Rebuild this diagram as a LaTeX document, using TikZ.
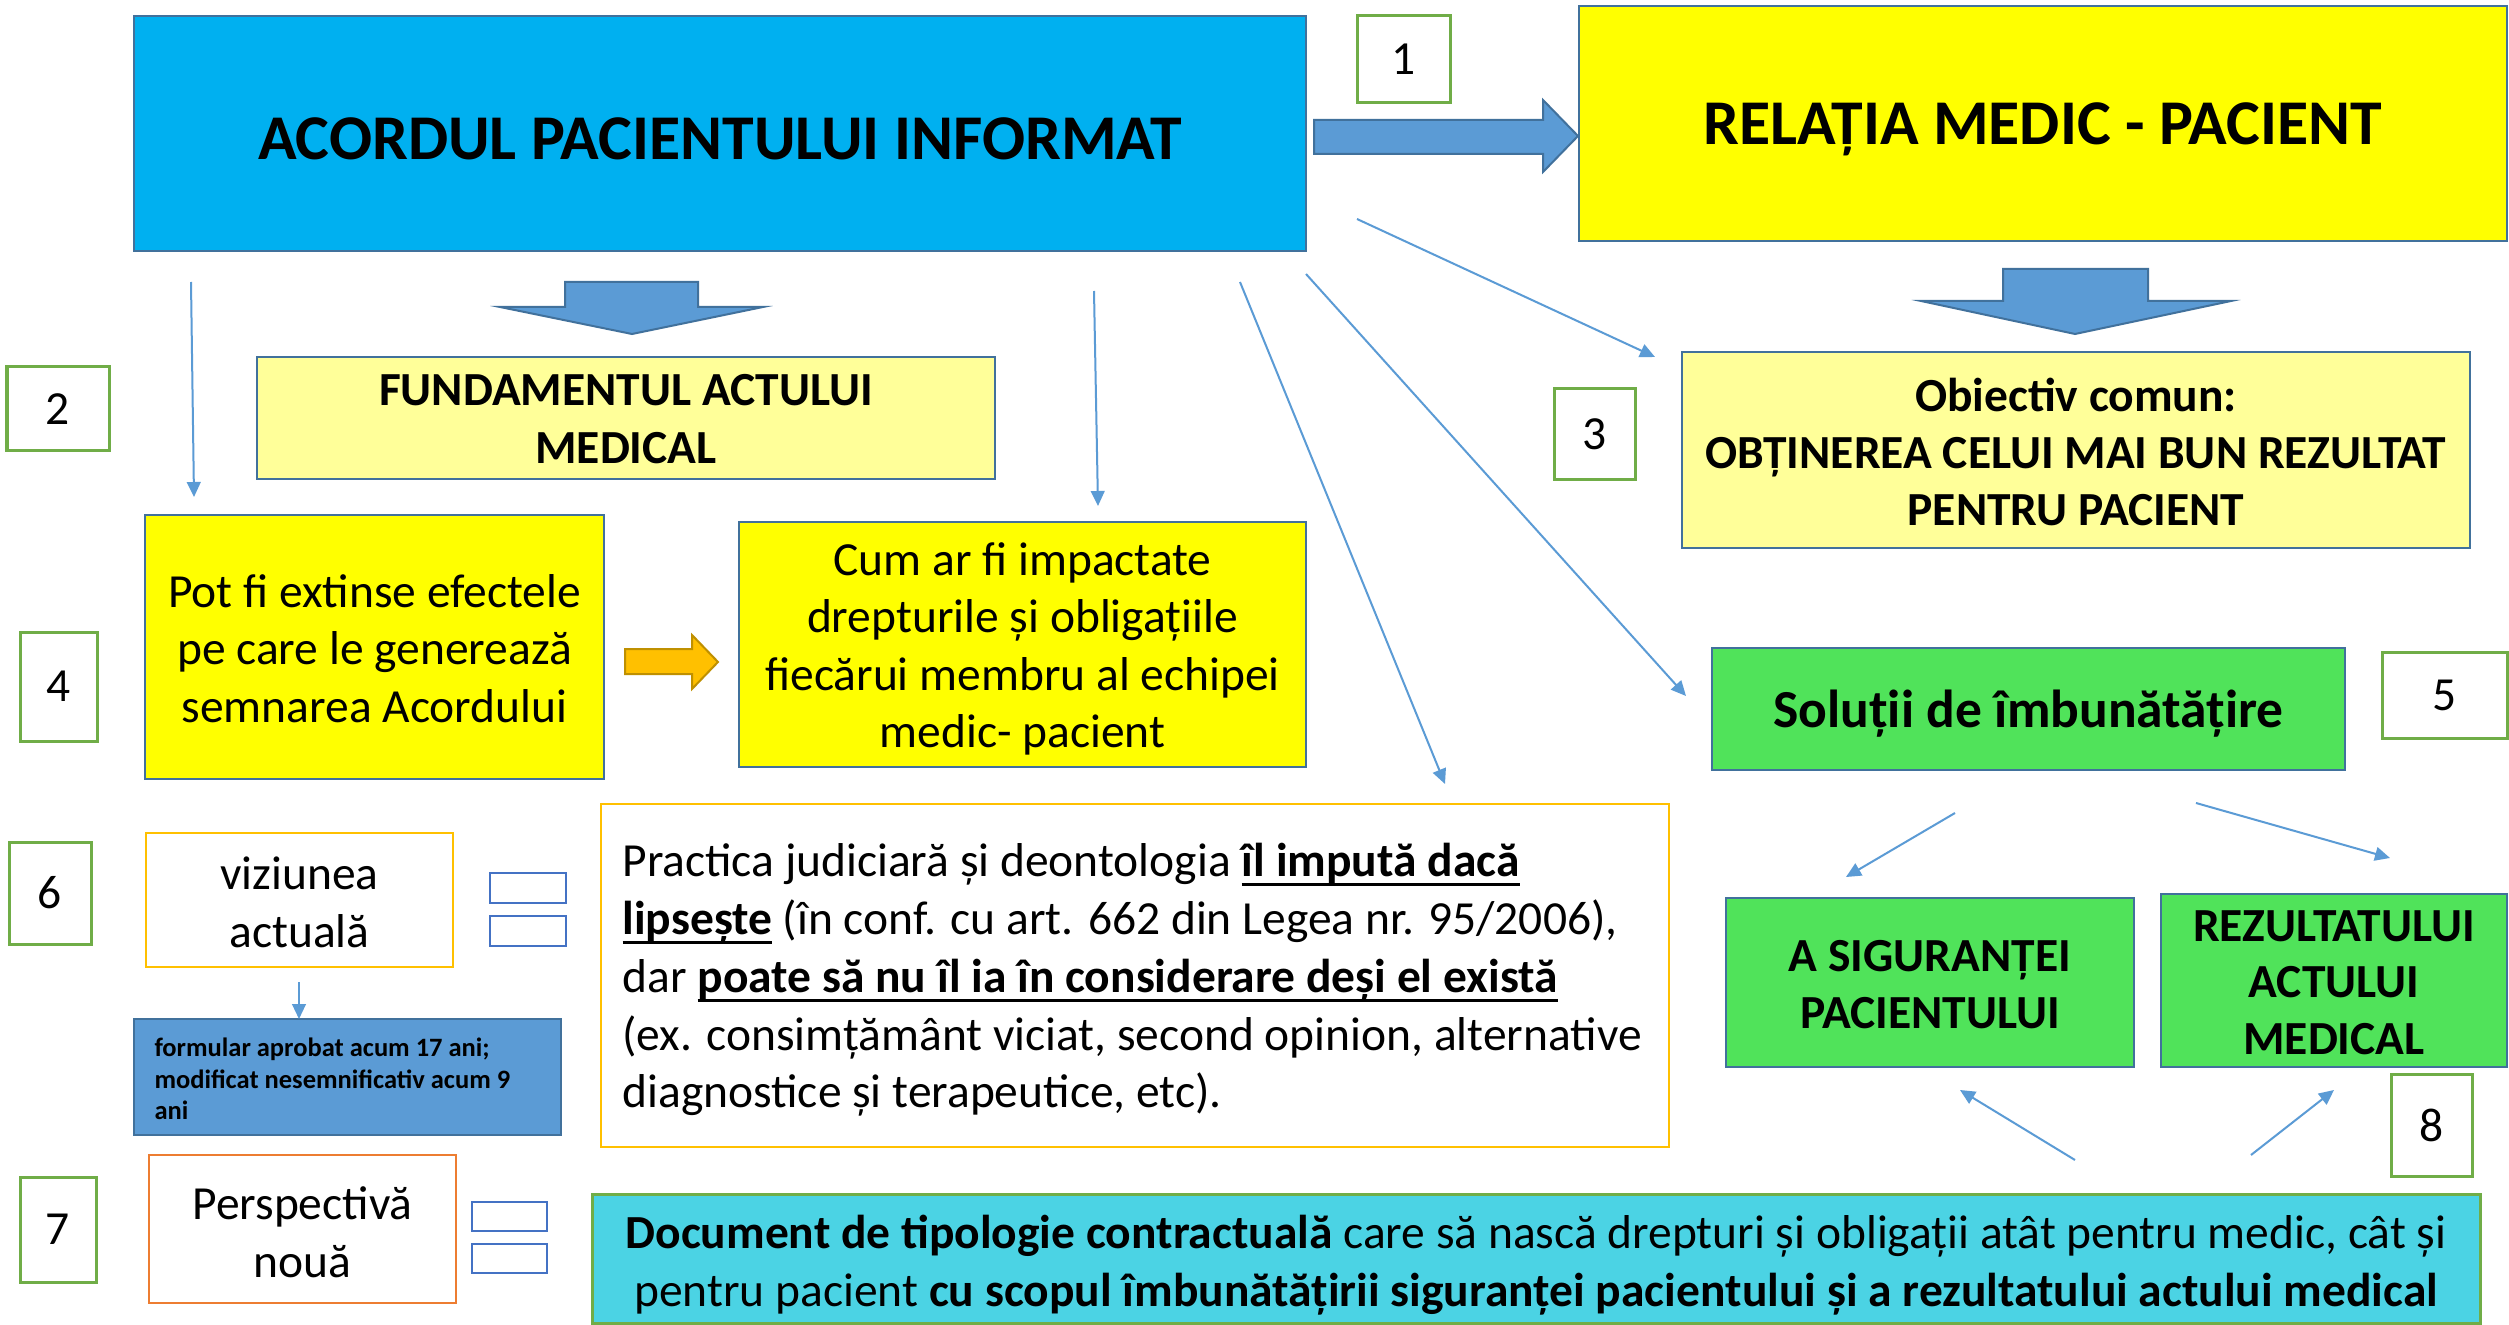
\documentclass[tikz,border=0pt]{standalone}
\usepackage{fontspec}
\setmainfont{Carlito}
\usetikzlibrary{arrows.meta}
\definecolor{cA}{HTML}{00B0F0}
\definecolor{bdr}{HTML}{41719C}
\definecolor{ylw}{HTML}{FFFF00}
\definecolor{lylw}{HTML}{FFFF99}
\definecolor{grn}{RGB}{80,227,90}
\definecolor{cyn}{RGB}{75,211,228}
\definecolor{blu}{HTML}{5B9BD5}
\definecolor{numg}{HTML}{70AD47}
\definecolor{orn}{HTML}{ED7D31}
\definecolor{gold}{HTML}{FFC000}
\definecolor{goldd}{HTML}{BF9000}
\definecolor{rb}{HTML}{4472C4}
\newcommand\myul[1]{\setbox0\hbox{#1}\rlap{\rule[-3.7pt]{\wd0}{1.1pt}}\box0}
\tikzset{
  sz/.style 2 args={minimum width=#1*0.4pt, minimum height=#2*0.4pt},
  box/.style={draw=bdr, line width=1pt, inner sep=0pt, outer sep=0pt, anchor=north west},
  txt/.style={inner sep=0pt, align=center},
  numbox/.style={draw=numg, fill=white, line width=1.2pt, inner sep=0pt, outer sep=0pt, anchor=north west, font=\fontsize{19}{23}\selectfont},
  smallrect/.style={draw=rb, fill=white, line width=1.1pt, inner sep=0pt, outer sep=0pt, anchor=north west},
  thinarrow/.style={draw=blu, line width=0.8pt, -{Triangle[length=6pt,width=5.5pt]}},
  blockarrow/.style={draw=bdr, fill=blu, line width=0.8pt, line join=miter},
}
\begin{document}
\begin{tikzpicture}[x=0.4pt,y=-0.4pt]
\useasboundingbox (0,0) rectangle (2509,1325);
\fill[white] (0,0) rectangle (2509,1325);

% main boxes
\node[box, fill=cA, sz={1172}{235}] (A) at (134,16) {};
\node[txt, yshift=-2pt, font=\bfseries\fontsize{25.5}{30}\selectfont] (At) at (A.center) {ACORDUL PACIENTULUI INFORMAT};
\node[box, fill=ylw, sz={928}{235}] (R) at (1579,6) {};
\node[txt, yshift=-2.5pt, font=\bfseries\fontsize{25.5}{30}\selectfont] (Rt) at (R.center) {RELAȚIA MEDIC - PACIENT};
\node[box, fill=lylw, sz={738}{122}] (F) at (257,357) {};
\node[txt, yshift=-0.6pt, font=\bfseries\fontsize{19}{23.2}\selectfont] (Ft) at (F.center) {FUNDAMENTUL ACTULUI\\MEDICAL};
\node[box, fill=lylw, sz={788}{196}] (O) at (1682,352) {};
\node[txt, yshift=-0.6pt, font=\bfseries\fontsize{19}{22.8}\selectfont] (Ot) at (O.center) {Obiectiv comun:\\OBȚINEREA CELUI MAI BUN REZULTAT\\PENTRU PACIENT};
\node[box, fill=ylw, sz={459}{264}] (P) at (145,515) {};
\node[txt, yshift=-0.6pt, font=\fontsize{19}{23}\selectfont] (Pt) at (P.center) {Pot fi extinse efectele\\pe care le generează\\semnarea Acordului};
\node[box, fill=ylw, sz={567}{245}] (C) at (739,522) {};
\node[txt, yshift=-1.8pt, font=\fontsize{19}{23}\selectfont] (Ct) at (C.center) {Cum ar fi impactate\\drepturile și obligațiile\\fiecărui membru al echipei\\medic- pacient};
\node[box, fill=grn, sz={633}{122}] (S) at (1712,648) {};
\node[txt, yshift=-2pt, font=\bfseries\fontsize{21.4}{25}\selectfont] (St) at (S.center) {Soluții de îmbunătățire};
\node[box, fill=grn, sz={408}{169}] (AS) at (1726,898) {};
\node[txt, yshift=-0.8pt, font=\bfseries\fontsize{19}{23}\selectfont] (ASt) at (AS.center) {A SIGURANȚEI\\PACIENTULUI};
\node[box, fill=grn, sz={346}{173}] (RZ) at (2161,894) {};
\node[txt, yshift=-0.8pt, font=\bfseries\fontsize{19}{22.6}\selectfont] (RZt) at (RZ.center) {REZULTATULUI\\ACTULUI\\MEDICAL};
\node[box, draw=gold, fill=white, sz={307}{134}] (V) at (146,833) {};
\node[txt, yshift=-1pt, font=\fontsize{19}{23}\selectfont] (Vt) at (V.center) {viziunea\\actuală};
\node[box, fill=blu, sz={427}{116}] (Fm) at (134,1019) {};
\node[anchor=west, align=left, inner sep=0pt, font=\bfseries\fontsize{10.6}{12.5}\selectfont] (FmT) at (154,1079) {formular aprobat acum 17 ani;\\modificat nesemnificativ acum 9\\ani};
\node[box, draw=orn, fill=white, sz={307}{148}] (Pn) at (149,1155) {};
\node[txt, yshift=-1.3pt, font=\fontsize{19}{23}\selectfont] (Pnt) at (Pn.center) {Perspectivă\\nouă};
\node[box, draw=gold, fill=white, sz={1068}{343}] (J) at (601,804) {};
\node[anchor=west, align=left, inner sep=0pt, yshift=-1.2pt, font=\fontsize{19}{23.1}\selectfont] (JT) at (622,977) {Practica judiciară și deontologia \textbf{\myul{îl impută dacă}}\\\textbf{\myul{lipsește}} (în conf. cu art. 662 din Legea nr. 95/2006),\\dar \textbf{\myul{poate să nu îl ia în considerare deși el există}}\\(ex. consimțământ viciat, second opinion, alternative\\diagnostice și terapeutice, etc).};
\node[box, draw=numg, fill=cyn, line width=1.2pt, sz={1888}{129}] (D) at (592,1194) {};
\node[txt, yshift=-2.5pt, font=\fontsize{19}{23.2}\selectfont] (Dt) at (D.center) {\textbf{Document de tipologie contractuală} care să nască drepturi și obligații atât pentru medic, cât și\\pentru pacient \textbf{cu scopul îmbunătățirii siguranței pacientului și a rezultatului actului medical}};

% number boxes
\node[numbox, sz={93}{87}] (n1) at (1357,16) {1};
\node[numbox, sz={102}{84}] (n2) at (7,367) {2};
\node[numbox, sz={81}{91}] (n3) at (1554,389) {3};
\node[numbox, sz={77}{109}] (n4) at (20,632) {4};
\node[numbox, sz={125}{86}] (n5) at (2382,652) {5};
\node[numbox, sz={82}{102}] (n6) at (9,842) {6};
\node[numbox, sz={76}{105}] (n7) at (20,1177) {7};
\node[numbox, sz={81}{102}] (n8) at (2391,1074) {8};

% small rectangles
\node[smallrect, sz={76}{30}] (r1) at (490,873) {};
\node[smallrect, sz={76}{30}] (r2) at (490,916) {};
\node[smallrect, sz={75}{29}] (r3) at (472,1202) {};
\node[smallrect, sz={75}{29}] (r4) at (472,1244) {};

% block arrows
\draw[blockarrow] (1314,120) -- (1543,120) -- (1543,100) -- (1578,136) -- (1543,172) -- (1543,154) -- (1314,154) -- cycle;
\draw[blockarrow] (565,282) -- (698,282) -- (698,307) -- (763,307) -- (632,334) -- (500,307) -- (565,307) -- cycle;
\draw[blockarrow] (2003,269) -- (2148,269) -- (2148,301) -- (2231,301) -- (2075,334) -- (1921,301) -- (2003,301) -- cycle;
\draw[draw=goldd, fill=gold, line width=0.8pt] (625,649) -- (692,649) -- (692,635) -- (718,662) -- (692,689) -- (692,674) -- (625,674) -- cycle;

% thin arrows
\coordinate (t1s) at (191,282); \coordinate (t1e) at (194,497);
\coordinate (t2s) at (1094,291); \coordinate (t2e) at (1098,506);
\coordinate (t3s) at (1240,282); \coordinate (t3e) at (1445,784);
\coordinate (t4s) at (1306,274); \coordinate (t4e) at (1686,696);
\coordinate (t5s) at (1357,219); \coordinate (t5e) at (1655,357);
\coordinate (t6s) at (1955,813); \coordinate (t6e) at (1846,877);
\coordinate (t7s) at (2196,803); \coordinate (t7e) at (2390,858);
\coordinate (t8s) at (299,982); \coordinate (t8e) at (299,1019);
\coordinate (t9s) at (2075,1160); \coordinate (t9e) at (1960,1090);
\coordinate (t10s) at (2251,1155); \coordinate (t10e) at (2334,1090);
\foreach \i in {1,...,10} \draw[thinarrow] (t\i s) -- (t\i e);
\end{tikzpicture}
\end{document}
